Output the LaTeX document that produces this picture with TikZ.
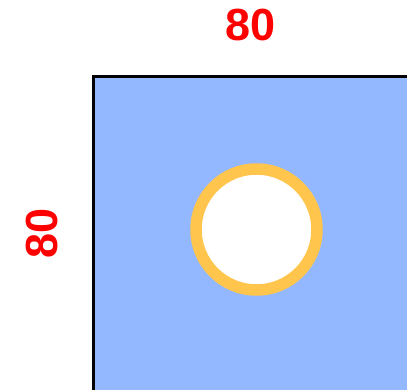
\documentclass[tikz,border=0pt]{standalone}
\usepackage{fontspec}
\setmainfont{Liberation Sans}
\definecolor{plate}{HTML}{94B8FF}
\definecolor{ring}{HTML}{FFC54D}
\definecolor{dimred}{HTML}{FF0000}
\begin{document}
\begin{tikzpicture}[x=1pt,y=-1pt,
  dimlabel/.style={text=dimred,font=\fontsize{45}{45}\selectfont\bfseries,inner sep=0pt}]
\useasboundingbox (0,0) rectangle (407,390);
\fill[plate] (93.5,76.5) rectangle (410,395);
\draw[line width=3pt] (93.5,395) -- (93.5,76.5) -- (410,76.5);
\node[circle,draw=ring,fill=white,line width=11.5pt,minimum size=121pt,inner sep=0pt] (hole) at (256.5,229.5) {};
\node[dimlabel] (top) at (250.5,25.5) {80};
\node[dimlabel,rotate=90] (left) at (42,233.5) {80};
\end{tikzpicture}
\end{document}
